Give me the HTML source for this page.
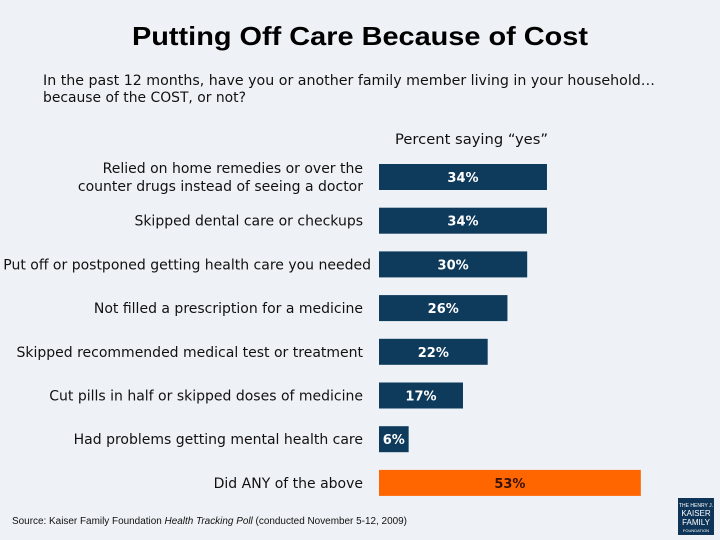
<!DOCTYPE html>
<html><head><meta charset="utf-8"><style>
html,body{margin:0;padding:0;background:#eef2f6;}
svg{display:block;font-family:"Liberation Sans",sans-serif;}
</style></head><body>
<svg id="chart" width="720" height="540" viewBox="0 0 720 540" xmlns="http://www.w3.org/2000/svg">
<rect x="0" y="0" width="720" height="540" fill="#eef2f6"/>
<text x="360" y="45" text-anchor="middle" font-size="26" font-weight="bold" fill="#000" textLength="456" lengthAdjust="spacingAndGlyphs">Putting Off Care Because of Cost</text>
<text x="43" y="85" font-size="14" fill="#111" font-family="DejaVu Sans, sans-serif" textLength="612" lengthAdjust="spacingAndGlyphs">In the past 12 months, have you or another family member living in your household…</text>
<text x="43" y="102" font-size="14" fill="#111" font-family="DejaVu Sans, sans-serif" textLength="203" lengthAdjust="spacingAndGlyphs">because of the COST, or not?</text>
<text x="395" y="144" font-size="14" fill="#111" font-family="DejaVu Sans, sans-serif" textLength="153" lengthAdjust="spacingAndGlyphs">Percent saying “yes”</text>
<g id="bars"></g>
<text x="12" y="524" font-size="10" fill="#111" textLength="395" lengthAdjust="spacingAndGlyphs">Source: Kaiser Family Foundation <tspan font-style="italic">Health Tracking Poll</tspan> (conducted November 5-12, 2009)</text>
<g>
<rect x="678" y="498" width="36" height="37" fill="#0e3558"/>
<text x="696" y="507" text-anchor="middle" font-size="5" fill="#fff">THE HENRY J.</text>
<text x="696" y="516" text-anchor="middle" font-size="8" fill="#fff">KAISER</text>
<text x="696" y="525" text-anchor="middle" font-size="8" fill="#fff">FAMILY</text>
<text x="696" y="532" text-anchor="middle" font-size="4" fill="#fff">FOUNDATION</text>
</g>
</svg>
<script>
const categories = [
  ["Relied on home remedies or over the","counter drugs instead of seeing a doctor"],
  ["Skipped dental care or checkups"],
  ["Put off or postponed getting health care you needed"],
  ["Not filled a prescription for a medicine"],
  ["Skipped recommended medical test or treatment"],
  ["Cut pills in half or skipped doses of medicine"],
  ["Had problems getting mental health care"],
  ["Did ANY of the above"]
];
const values = [34, 34, 30, 26, 22, 17, 6, 53];
const valueLabels = ["34%","34%","30%","26%","22%","17%","6%","53%"];

const NS = "http://www.w3.org/2000/svg";
const g = document.getElementById("bars");
const x0 = 379, pxPerPct = 4.94;
function xScale(v){ return x0 + v * pxPerPct; }
const yTop = 164, step = 43.7, barH = 26;
function yScale(i){ return yTop + i * step; }

values.forEach((v, i) => {
  const y = yScale(i);
  const last = i === values.length - 1;
  const r = document.createElementNS(NS, "rect");
  
  
  r.setAttribute("x", x0);
  r.setAttribute("y", y);
  r.setAttribute("width", xScale(v) - x0);
  r.setAttribute("height", barH);
  r.setAttribute("fill", last ? "#ff6600" : "#0e3a5c");
  g.appendChild(r);

  const t = document.createElementNS(NS, "text");
  
  
  t.setAttribute("x", (x0 + xScale(v)) / 2);
  t.setAttribute("y", y + 18);
  t.setAttribute("text-anchor", "middle");
  t.setAttribute("font-size", "13");
  t.setAttribute("font-weight", "bold");
  t.setAttribute("font-family", "DejaVu Sans, sans-serif");
  t.setAttribute("fill", last ? "#3a1206" : "#ffffff");
  t.textContent = valueLabels[i];
  g.appendChild(t);

  const lines = categories[i];
  const cy = y + barH / 2;
  lines.forEach((ln, j) => {
    const c = document.createElementNS(NS, "text");
    
    
    const rightX = (i === 2) ? 371 : 363;
    c.setAttribute("x", rightX);
    c.setAttribute("y", cy + 5 + (j - (lines.length - 1) / 2) * 18);
    c.setAttribute("text-anchor", "end");
    c.setAttribute("font-size", "14");
    c.setAttribute("font-family", "DejaVu Sans, sans-serif");
    c.setAttribute("fill", "#111");
    c.textContent = ln;
    g.appendChild(c);
  });
});
</script>
</body></html>
